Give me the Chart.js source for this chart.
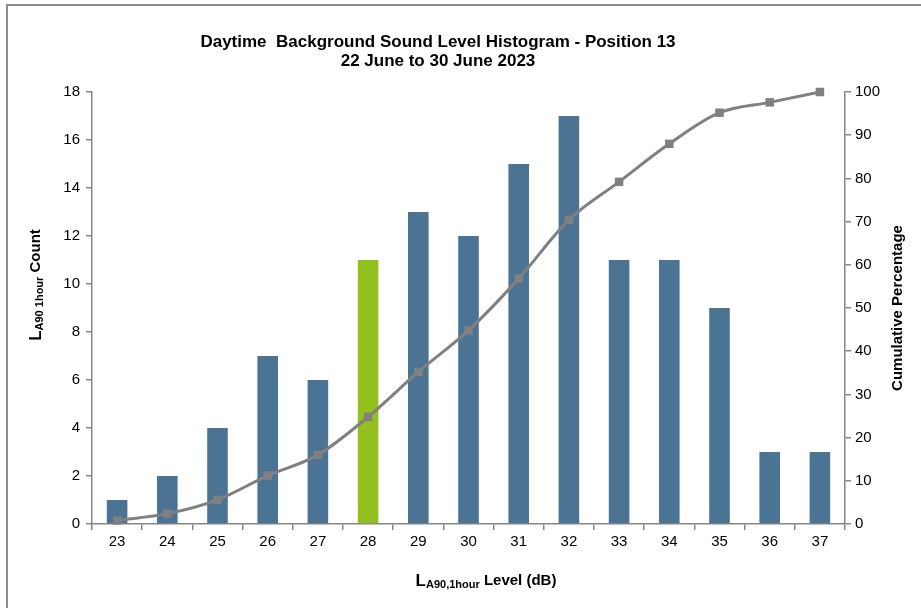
<!DOCTYPE html>
<html><head><meta charset="utf-8">
<script src="https://cdn.jsdelivr.net/npm/chart.js@4/dist/chart.umd.min.js"></script>
<style>
html,body{margin:0;padding:0;background:#fff;}
#wrap{position:relative;width:921px;height:608px;overflow:hidden;}
#frame{position:absolute;left:6px;top:4px;width:1000px;height:700px;border-top:2px solid #8c8c8c;border-left:2px solid #8c8c8c;box-sizing:border-box;}
canvas{position:absolute;left:0;top:0;}
</style></head>
<body><div id="wrap"><div id="frame"></div><canvas id="c" width="921" height="608"></canvas></div>
<script>
const levels = ['23','24','25','26','27','28','29','30','31','32','33','34','35','36','37'];
const counts = [1,2,4,7,6,11,13,12,15,17,11,11,9,3,3];
const cumulative = [0.8,2.4,5.6,11.2,16,24.8,35.2,44.8,56.8,70.4,79.2,88,95.2,97.6,100];
const highlightLevel = '28';
const titleLines = ['Daytime  Background Sound Level Histogram - Position 13','22 June to 30 June 2023'];

const BLUE = '#4a7394', GREEN = '#93c01f', GREY = '#808080', AXIS = '#868686';
const FONT = '"Liberation Sans", Arial, sans-serif';

function drawSubText(ctx, parts, x, y) {
  let total = 0;
  parts.forEach(p => { ctx.font = 'bold ' + p.size + 'px ' + FONT; p.w = ctx.measureText(p.t).width; total += p.w; });
  let cx = x - total / 2;
  parts.forEach(p => {
    ctx.font = 'bold ' + p.size + 'px ' + FONT;
    ctx.fillText(p.t, cx, y + (p.dy || 0));
    cx += p.w;
  });
}

const deco = {
  id: 'deco',
  afterDraw(chart) {
    const ctx = chart.ctx;
    ctx.save();
    ctx.fillStyle = '#000';
    ctx.textBaseline = 'middle';
    ctx.textAlign = 'center';
    ctx.font = 'bold 17px ' + FONT;
    ctx.fillText(titleLines[0], 438, 42);
    ctx.fillText(titleLines[1], 438, 61);
    ctx.textAlign = 'left';
    drawSubText(ctx, [{t:'L',size:17},{t:'A90,1hour',size:11,dy:4},{t:' Level (dB)',size:15}], 486, 581);
    ctx.save();
    ctx.translate(36, 285);
    ctx.rotate(-Math.PI/2);
    drawSubText(ctx, [{t:'L',size:17},{t:'A90 1hour',size:11,dy:4},{t:' Count',size:15}], 0, 0);
    ctx.restore();
    ctx.save();
    ctx.translate(898, 308);
    ctx.rotate(-Math.PI/2);
    ctx.textAlign = 'center';
    ctx.font = 'bold 15px ' + FONT;
    ctx.fillText('Cumulative Percentage', 0, 0);
    ctx.restore();
    ctx.restore();
  }
};

new Chart(document.getElementById('c'), {
  data: {
    labels: levels,
    datasets: [
      {
        type: 'line', label: 'Cumulative', data: cumulative, yAxisID: 'y2', order: 0,
        borderColor: GREY, backgroundColor: GREY, borderWidth: 3,
        pointStyle: 'rect', pointRadius: 6, pointBorderWidth: 0,
        cubicInterpolationMode: 'monotone', clip: false
      },
      {
        type: 'bar', label: 'Count', data: counts, yAxisID: 'y', order: 1,
        backgroundColor: levels.map(l => l === highlightLevel ? GREEN : BLUE),
        barPercentage: 0.41, categoryPercentage: 1.0
      }
    ]
  },
  options: {
    responsive: false, animation: false,
    layout: { padding: { top: 92, left: 0, right: 0, bottom: 0 } },
    plugins: { legend: { display: false }, tooltip: { enabled: false } },
    scales: {
      x: {
        offset: true,
        grid: { display: true, drawOnChartArea: false, offset: true, tickLength: 6, color: AXIS, lineWidth: 1.5 },
        border: { color: AXIS, width: 1.5 },
        ticks: { color: '#000', font: { family: FONT, size: 15 }, padding: 3, maxRotation: 0 },
        afterFit(s) { s.height = 84; }
      },
      y: {
        position: 'left', min: 0, max: 18,
        grid: { display: true, drawOnChartArea: false, tickLength: 6, color: AXIS, lineWidth: 1.5 },
        border: { color: AXIS, width: 1.5 },
        ticks: { stepSize: 2, color: '#000', font: { family: FONT, size: 15 }, padding: 6 },
        afterFit(s) { s.width = 92; }
      },
      y2: {
        position: 'right', min: 0, max: 100,
        grid: { display: true, drawOnChartArea: false, tickLength: 6, color: AXIS, lineWidth: 1.5 },
        border: { color: AXIS, width: 1.5 },
        ticks: { stepSize: 10, color: '#000', font: { family: FONT, size: 15 }, padding: 4 },
        afterFit(s) { s.width = 76; }
      }
    }
  },
  plugins: [deco]
});
</script></body></html>
